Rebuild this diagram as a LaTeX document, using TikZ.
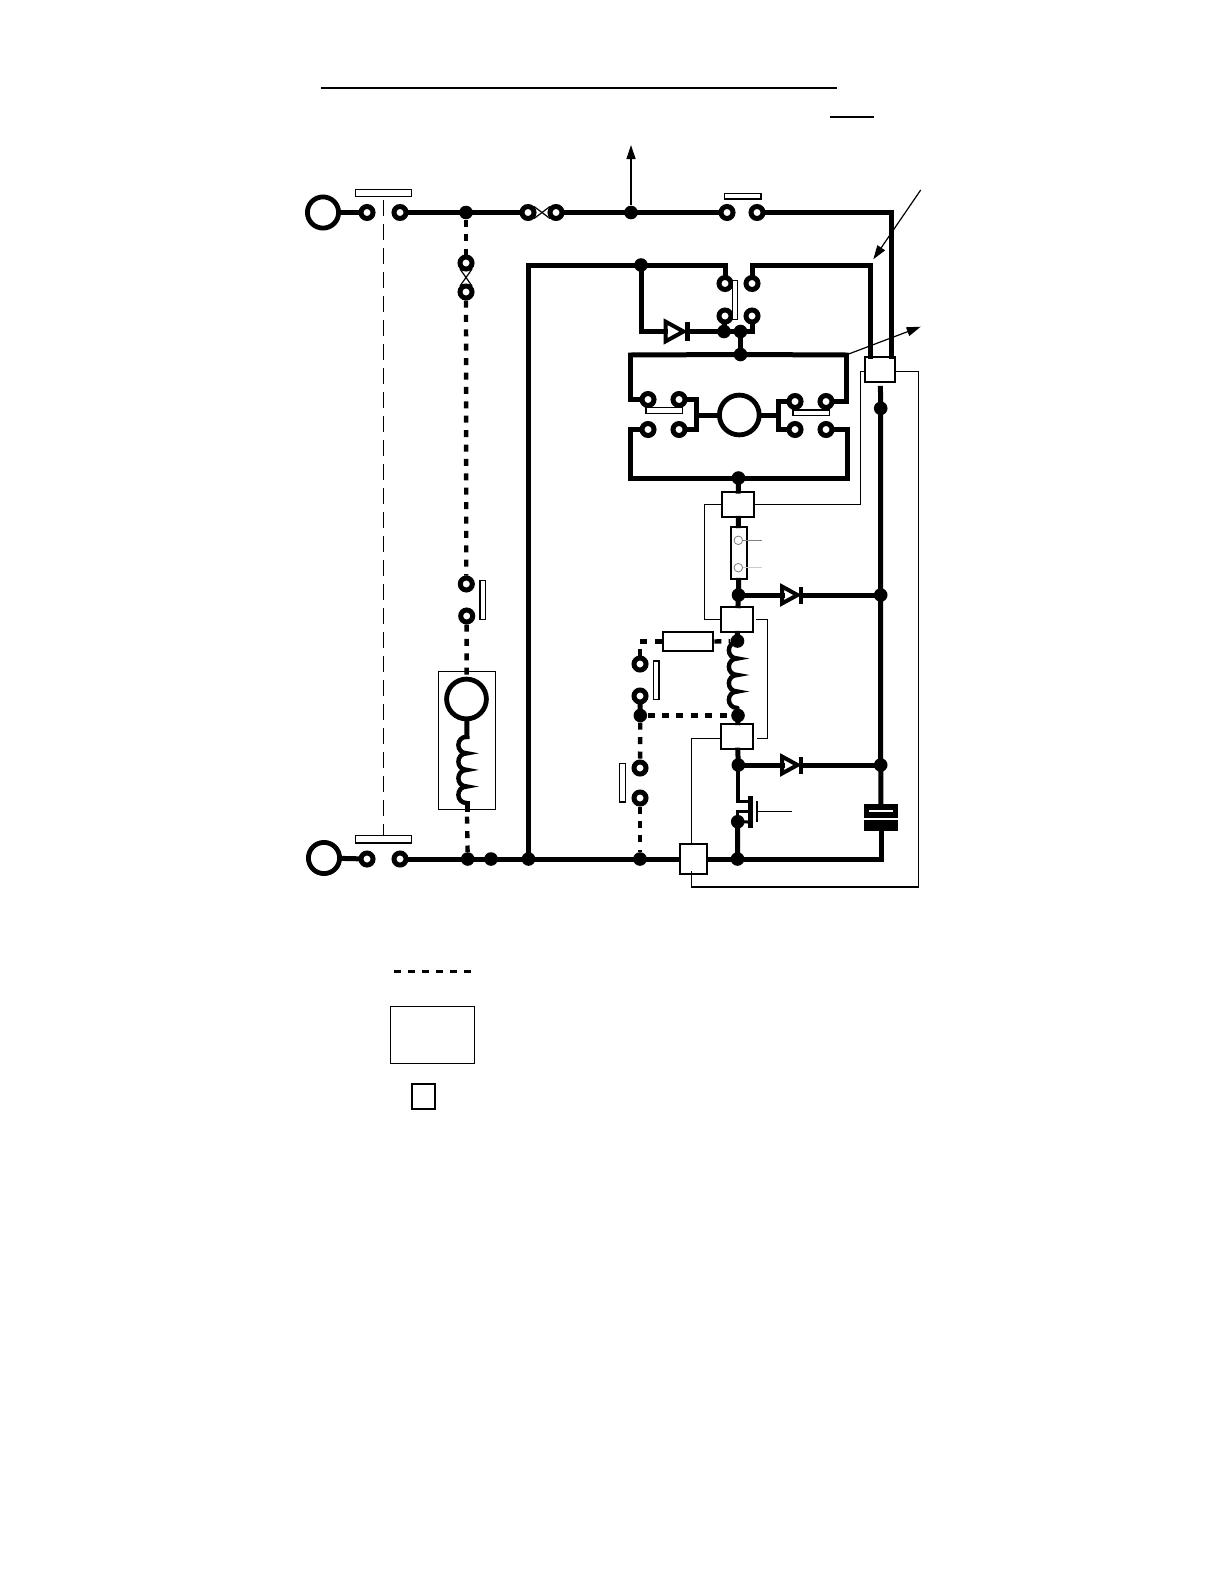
\documentclass[tikz,border=0pt]{standalone}
\usepackage{pgf,tikz}
\usetikzlibrary{arrows.meta}

\tikzset{
	wire/.style={line width=2.5pt,line cap=rect},
	wirem/.style={line width=1.5pt,line cap=rect},
	coilwire/.style={line width=2.2pt,line cap=round},
	dashwire/.style={line width=2.2pt,dash pattern=on 3.5pt off 3.7pt},
	ctrl/.style={line width=0.6pt},
	thinx/.style={line width=0.6pt},
	contact/.style={circle,draw,fill=white,line width=2.5pt,inner sep=0pt,minimum size=6pt},
	junction/.style={circle,fill=black,inner sep=0pt,minimum size=6.8pt},
	terminal/.style={circle,draw,line width=2.4pt,inner sep=0pt,minimum size=15.6pt},
	motor/.style={circle,draw,line width=2.4pt,inner sep=0pt,minimum size=19.9pt},
	relbox/.style={rectangle,draw,fill=white,line width=1pt,inner sep=0pt},
	barlong/.style={rectangle,draw,fill=white,line width=0.6pt,inner sep=0pt,minimum width=28pt,minimum height=3.6pt},
	barh/.style={rectangle,draw,fill=white,line width=0.7pt,inner sep=0pt,minimum width=18.2pt,minimum height=2.8pt},
	barv/.style={rectangle,draw,fill=white,line width=0.7pt,inner sep=0pt,minimum width=2.8pt,minimum height=19.3pt},
	plate/.style={rectangle,fill=black,inner sep=0pt},
	diode/.pic={
		\draw[line width=2pt,fill=white,line join=miter] (0,-8.5) -- (15.5,0) -- (0,8.5) -- cycle;
		\fill (16.5,-8.5) rectangle (21,8.5);
		\coordinate (-in) at (0,0);
		\coordinate (-out) at (21,0);
	}
}

\begin{document}
\begin{tikzpicture}[x=0.5pt,y=-0.5pt,>={Triangle[length=7pt,width=4.5pt]}]
	\useasboundingbox[fill=white] (0,0) rectangle (1224,1584);

	\coordinate (hd1) at (321,88);
	\coordinate (hd2) at (837,88);
	\coordinate (hd3) at (830,117);
	\coordinate (hd4) at (874,117);
	\draw[line width=1pt] (hd1) -- (hd2);
	\draw[line width=1pt] (hd3) -- (hd4);

	\node[terminal] (xt1) at (323,212.5) {};
	\node[terminal] (xt2) at (324,858) {};
	\node[barlong] (lb1) at (383.3,192.8) {};
	\node[barlong] (lb2) at (383.3,839.3) {};
	\draw[thinx,shorten <=1.4pt,dash pattern=on 8.3pt off 3.7pt] (lb1.south) -- (lb2.north);

	\node[contact] (s1a) at (367,212.5) {};
	\node[contact] (s1b) at (400,212.5) {};
	\node[contact] (f1a) at (528,212.5) {};
	\node[contact] (f1b) at (556,212.5) {};
	\node[contact] (s2a) at (727,212.5) {};
	\node[contact] (s2b) at (757,212.5) {};
	\node[contact] (f2a) at (466,263) {};
	\node[contact] (f2b) at (466,292) {};
	\node[contact] (s3a) at (466.3,584) {};
	\node[contact] (s3b) at (466.7,616) {};
	\node[contact] (r1a) at (725,283.5) {};
	\node[contact] (r1b) at (752,283.5) {};
	\node[contact] (r2a) at (725,316) {};
	\node[contact] (r2b) at (752,316) {};
	\node[contact] (b1a) at (648,399.5) {};
	\node[contact] (b1b) at (679,399.5) {};
	\node[contact] (b1c) at (648,429.5) {};
	\node[contact] (b1d) at (679,429.5) {};
	\node[contact] (b2a) at (795,401.5) {};
	\node[contact] (b2b) at (826,401.5) {};
	\node[contact] (b2c) at (795,429.5) {};
	\node[contact] (b2d) at (826,429.5) {};
	\node[contact] (s4a) at (640,664) {};
	\node[contact] (s4b) at (640,696) {};
	\node[contact] (s5a) at (640,768) {};
	\node[contact] (s5b) at (640,798) {};
	\node[contact] (s6a) at (367,859) {};
	\node[contact] (s6b) at (400,859) {};

	\node[junction] (j1) at (466,212.5) {};
	\node[junction] (j2) at (631,212.5) {};
	\node[junction] (j3) at (641,265) {};
	\node[junction] (j4) at (724,331.5) {};
	\node[junction] (j5) at (740.5,331.5) {};
	\node[junction] (j6) at (740.5,354.5) {};
	\node[junction] (j7) at (880.7,408.3) {};
	\node[junction] (j8) at (738.5,478) {};
	\node[junction] (j9) at (738.5,595) {};
	\node[junction] (j10) at (880.7,595) {};
	\node[junction] (j11) at (737.5,641) {};
	\node[junction] (j12) at (738,715.5) {};
	\node[junction] (j13) at (640.3,715.5) {};
	\node[junction] (j14) at (738.3,765) {};
	\node[junction] (j15) at (880.7,765) {};
	\node[junction] (j16) at (737.7,821.7) {};
	\node[junction] (j17) at (737.5,859) {};
	\node[junction] (j18) at (640,859) {};
	\node[junction] (j19) at (467.7,859) {};
	\node[junction] (j20) at (491,859) {};
	\node[junction] (j21) at (528.5,859) {};

	\node[relbox,minimum width=15pt,minimum height=12.8pt] (k1) at (880.2,369.5) {};
	\node[relbox,minimum width=16.3pt,minimum height=12.6pt] (k2) at (738,504.7) {};
	\node[relbox,minimum width=16pt,minimum height=12.8pt] (k3) at (737.3,619.5) {};
	\node[relbox,minimum width=16pt,minimum height=12.8pt] (k4) at (737.3,736.3) {};
	\node[relbox,minimum width=13.8pt,minimum height=14.8pt] (k5) at (693.5,859) {};
	\node[relbox,minimum width=8.3pt,minimum height=26.3pt] (res1) at (739,553) {};
	\node[relbox,minimum width=25.3pt,minimum height=9.5pt] (res2) at (688,641.5) {};

	\node[barh] (bs2) at (742.7,196) {};
	\node[barv,minimum width=2.5pt] (bs1) at (734.8,300) {};
	\node[barh] (bb1) at (664.2,410.5) {};
	\node[barh] (bb2) at (811,412.7) {};
	\node[barv] (bs3) at (482.7,600) {};
	\node[barv] (bs4) at (656.2,680.3) {};
	\node[barv] (bs5) at (622.5,782.6) {};

	\node[motor] (mot) at (739.3,415) {};
	\node[rectangle,draw,line width=0.6pt,inner sep=0pt,minimum width=28.5pt,minimum height=69pt] (mbox) at (466.8,740.3) {};
	\node[motor] (mg) at (466.5,699) {};

	\draw[wire] (xt1) -- (s1a);
	\draw[wire] (s1b) -- (j1) -- (f1a);
	\draw[wire] (f1b) -- (j2) -- (s2a);
	\coordinate (tr1) at (891,212.5);
	\coordinate (k1r) at (891,356.7);
	\coordinate (k1l) at (870,356.7);
	\coordinate (tr2) at (870,265);
	\draw[wire] (s2b) -- (tr1) -- (k1r);
	\draw[wire] (r1b) |- (tr2) -- (k1l);
	\draw[wire] (j21) |- (j3);
	\draw[wire] (j3) -| (r1a);

	\draw[thinx] (f1a.north east) -- (f1b.south west);
	\draw[thinx] (f1a.south east) -- (f1b.north west);
	\draw[thinx] (f2a.south west) -- (f2b.north east);
	\draw[thinx] (f2a.south east) -- (f2b.north west);

	\pic (d1) [scale=1.15] at (665.7,331.5) {diode};
	\draw[wire] (j3) |- (d1-in);
	\draw[wire] (d1-out) -- (j4);
	\draw[wire] (j4) -- (r2a);
	\draw[wire] (j4) -- (j5);
	\draw[wire] (r2b) |- (j5);
	\draw[wire] (j5) -- (j6);

	\coordinate (bl1) at (630.7,355);
	\coordinate (br1) at (846,355);
	\coordinate (bl3) at (630.7,478);
	\coordinate (br3) at (847.3,478);
	\coordinate (m1) at (696.7,415);
	\coordinate (m2) at (778.3,415);
	\draw[wire] (bl1) -- (j6) -- (br1);
	\draw[wire] (bl1) |- (b1a);
	\draw[wire] (br1) |- (b2b);
	\draw[wire] (bl3) -- (j8) -- (br3);
	\draw[wire] (bl3) |- (b1c);
	\draw[wire] (br3) |- (b2d);
	\draw[wire] (m1) |- (b1b);
	\draw[wire] (m1) |- (b1d);
	\draw[wire] (m1) -- (mot);
	\draw[wire] (m2) |- (b2a);
	\draw[wire] (m2) |- (b2c);
	\draw[wire] (m2) -- (mot);

	\draw[wire] (j8) -- (k2);
	\draw[wire] (k2) -- (res1);
	\draw[wire] (res1) -- (j9);
	\draw[wire] (j9) -- (k3);
	\pic (d2) at (782,595) {diode};
	\draw[wire] (j9) -- (d2-in);
	\draw[wire] (d2-out) -- (j10);
	\draw[wire] (k3) -- (j11);
	\draw[coilwire] (737.5,642) \foreach \k in {0,1,2,3} { .. controls (726,{642+16.5*\k}) and (726,{658.5+16.5*\k}) .. (737.5,{658.5+16.5*\k}) };
	\draw[wire] (j12) -- (k4);
	\draw[wire] (k4) -- (j14);
	\pic (d3) at (782,765) {diode};
	\draw[wire] (j14) -- (d3-in);
	\draw[wire] (d3-out) -- (j15);

	\node[plate,minimum width=16.8pt,minimum height=7pt] (capa) at (881,811.3) {};
	\node[plate,minimum width=16.8pt,minimum height=5.4pt] (capb) at (881,825.3) {};
	\node[rectangle,fill=white,inner sep=0pt,minimum width=11.7pt,minimum height=1pt] (capw) at (881,811) {};
	\coordinate (cr) at (881,859);
	\draw[wire,shorten <=2.5pt] (k1) -- (j7);
	\draw[wire] (j7) -- (j10) -- (j15) -- (capa);
	\draw[wire] (capb) -- (cr);

	\draw[wire] (xt2) -- (s6a);
	\draw[wire] (s6b) -- (j19) -- (j20) -- (j21) -- (j18) -- (k5);
	\draw[wire] (k5) -- (j17) -- (cr);

	\node[plate,minimum width=2.3pt,minimum height=16pt] (tbar) at (750.5,812) {};
	\node[plate,minimum width=0.8pt,minimum height=10.5pt] (gbar) at (756.7,811.5) {};
	\coordinate (t1) at (tbar.west |- 0,801);
	\coordinate (t2) at (tbar.west |- 0,811);
	\coordinate (t3) at (tbar.west |- 0,822);
	\coordinate (tv) at (738.3,801);
	\coordinate (gt) at (792,811.5);
	\draw[wire,line width=2pt] (j14) -- (tv);
	\draw[wirem] (tv) -- (t1);
	\draw[wirem] (j16) |- (t2);
	\draw[wirem] (j16) -- (t3);
	\draw[wire] (j16) -- (j17);
	\draw[thinx] (gbar) -- (gt);

	\coordinate (k1e) at (895.3,371.3);
	\coordinate (k1w) at (865,371.3);
	\coordinate (k4e) at (755,738.3);
	\coordinate (k4w) at (721.3,738.3);
	\coordinate (c1) at (918.5,371.3);
	\coordinate (c2) at (918.5,887);
	\coordinate (c3) at (691.7,887);
	\coordinate (c4) at (691.7,871);
	\coordinate (c5) at (691.7,843.7);
	\coordinate (c6) at (860.3,371.3);
	\coordinate (c7) at (860.3,504.7);
	\coordinate (c8) at (704.7,504.7);
	\coordinate (c9) at (704.7,619.5);
	\coordinate (c10) at (767.3,619.5);
	\coordinate (c11) at (767.3,738.3);
	\draw[ctrl] (k1e) -- (c1) -- (c2) -- (c3) -- (c4);
	\draw[ctrl] (c5) |- (k4w);
	\draw[ctrl] (k1w) -- (c6) -- (c7) -- (k2.east);
	\draw[ctrl] (k2.west) -- (c8) -- (c9) -- (k3.west);
	\draw[ctrl,shorten <=1pt,shorten >=1pt] (k3.east) -- (c10) -- (c11) -- (k4e);

	\node[circle,draw=gray,line width=0.4pt,fill=white,inner sep=0pt,minimum size=4.3pt] (gc1) at (738.3,540.3) {};
	\node[circle,draw=gray,line width=0.4pt,fill=white,inner sep=0pt,minimum size=4.3pt] (gc2) at (738.3,567.7) {};
	\coordinate (gl1) at (761.7,540.3);
	\coordinate (gl2) at (761.7,567.7);
	\draw[gray,line width=0.5pt] (gc1) -- (gl1);
	\draw[gray!40,line width=0.6pt] (gc2) -- (gl2);

	\draw[dashwire] (j1) -- (f2a);
	\draw[dashwire] (f2b) -- (s3a);
	\draw[dashwire] (s3b) -- (mg);
	\coordinate (mc1) at (467,736.7);
	\coordinate (mc2) at (467,803);
	\coordinate (mc3) at (467,809.3);
	\coordinate (mc4) at (467,816.7);
	\draw[wire] (mg) -- (mc1);
	\draw[coilwire] (mc1) \foreach \k in {0,1,2,3} { .. controls (455.5,{736.7+16.6*\k}) and (455.5,{753.3+16.6*\k}) .. (467,{753.3+16.6*\k}) };
	\draw[wire] (mc2) -- (mc3);
	\draw[dashwire] (mc4) -- (j19);

	\draw[dashwire] (res2.east) -- (j11);
	\draw[dashwire] (res2.west) -| (s4a);
	\draw[wire] (s4b) -- (j13);
	\draw[dashwire] (j13) -- (j12);
	\draw[dashwire] (j13) -- (s5a);
	\draw[dashwire] (s5b) -- (j18);

	\coordinate (au1) at (631,145);
	\coordinate (au2) at (920.7,190);
	\coordinate (au3) at (873.3,259.3);
	\coordinate (au4) at (920.7,326.7);
	\draw[->,line width=0.6pt] (j2) -- (au1);
	\draw[->,line width=0.6pt] (au2) -- (au3);
	\draw[->,line width=0.6pt] (br1) -- (au4);

	\coordinate (lg1) at (394,971.3);
	\coordinate (lg2) at (471,971.3);
	\draw[line width=1.6pt,dash pattern=on 3.5pt off 3.5pt] (lg1) -- (lg2);
	\node[rectangle,draw,line width=0.7pt,inner sep=0pt,minimum width=42pt,minimum height=28.5pt] (lgbox) at (432.3,1034.8) {};
	\node[rectangle,draw,line width=1pt,inner sep=0pt,minimum width=11.8pt,minimum height=12.8pt] (lgrel) at (423.5,1096.5) {};
\end{tikzpicture}
\end{document}
